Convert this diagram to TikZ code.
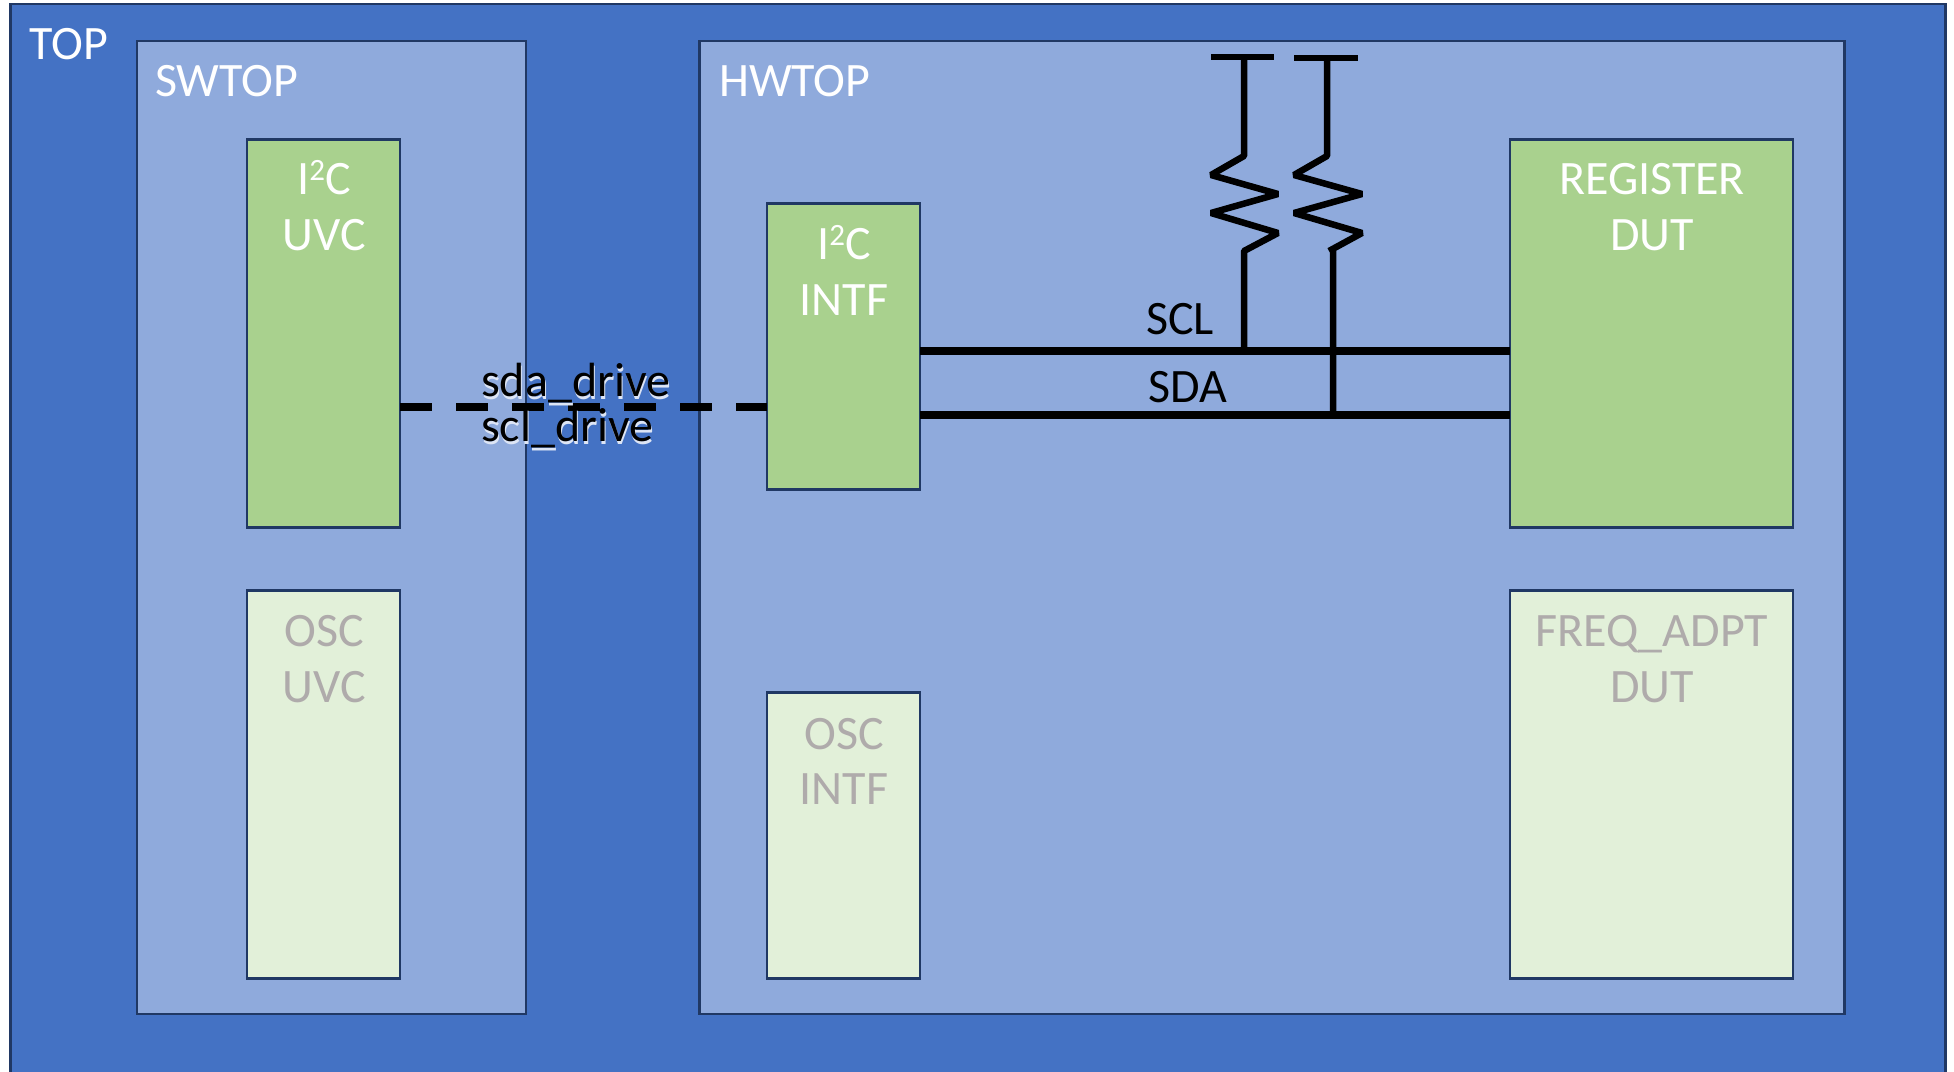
\documentclass[tikz,border=0pt]{standalone}
\usepackage{fontspec}
\setmainfont{Carlito}
\newcommand{\glowlabel}[1]{\rlap{\kern1pt\raisebox{-3pt}{\textcolor{white!70!glowblue}{#1}}}#1}
\definecolor{topblue}{HTML}{4472C4}
\definecolor{glowblue}{HTML}{8FAADC}
\definecolor{midblue}{HTML}{8FAADC}
\definecolor{edgeblue}{HTML}{203864}
\definecolor{boxgreen}{HTML}{A9D18E}
\definecolor{palegreen}{HTML}{E2F0D9}
\definecolor{fadetext}{HTML}{AFABAB}
\tikzset{
  x=1pt,y=-1pt,
  box/.style={draw=edgeblue,line width=2.6pt,inner sep=0pt,outer sep=0pt,anchor=north west},
  topbox/.style={box,fill=topblue},
  hier/.style={box,fill=midblue},
  active/.style={box,fill=boxgreen},
  faded/.style={box,fill=palegreen},
  lab/.style={anchor=base west,inner sep=0pt,font=\fontsize{48}{56}\selectfont},
  white lab/.style={lab,text=white},
  mid lab/.style={anchor=base,inner sep=0pt,font=\fontsize{48}{56}\selectfont,text=#1},
  wire lab/.style={lab,text=black},
  sigwire/.style={draw=black,line width=8pt},
  res/.style={draw=black,line width=6.5pt,line join=bevel},
}
\begin{document}
\begin{tikzpicture}
\clip (0,0) rectangle (1954,1071);
\fill[white] (0,0) rectangle (1954,1071);
\node[topbox,minimum width=1935pt,minimum height=1090pt] (top) at (10.5,4) {};
\node[hier,minimum width=389pt,minimum height=973pt] (swtop) at (137,41) {};
\node[hier,minimum width=1145pt,minimum height=973pt] (hwtop) at (699.5,41) {};
\node[active,minimum width=153pt,minimum height=388pt] (i2cuvc) at (247,139.5) {};
\node[faded,minimum width=153pt,minimum height=388pt] (oscuvc) at (247,590.5) {};
\node[active,minimum width=153pt,minimum height=286pt] (i2cintf) at (767,203.5) {};
\node[faded,minimum width=153pt,minimum height=286pt] (oscintf) at (767,692.5) {};
\node[active,minimum width=283pt,minimum height=388pt] (regdut) at (1510,139.5) {};
\node[faded,minimum width=283pt,minimum height=388pt] (freqdut) at (1510,590.5) {};

\node[white lab] (toplab) at (29,59) {TOP};
\node[white lab] (swlab) at (155,96) {SWTOP};
\node[white lab] (hwlab) at (719,96) {HWTOP};
\node[mid lab=white] (i2cuvclab) at (324,194) {I\raisebox{14pt}{\fontsize{31}{31}\selectfont 2}C};
\node[mid lab=white] (uvclab) at (324.5,250) {UVC};
\node[mid lab=fadetext] (oscuvclab) at (324,646.5) {OSC};
\node[mid lab=fadetext] (uvc2lab) at (324.5,702) {UVC};
\node[mid lab=white] (i2cintflab) at (844,259) {I\raisebox{14pt}{\fontsize{31}{31}\selectfont 2}C};
\node[mid lab=white] (intflab) at (844,315.5) {INTF};
\node[mid lab=fadetext] (oscintflab) at (844,749) {OSC};
\node[mid lab=fadetext] (intf2lab) at (844,804.5) {INTF};
\node[mid lab=white] (reglab) at (1652,194) {REGISTER};
\node[mid lab=white] (dutlab) at (1652,250) {DUT};
\node[mid lab=fadetext] (freqlab) at (1652,646.5) {FREQ\_ADPT};
\node[mid lab=fadetext] (dut2lab) at (1652,702) {DUT};

\coordinate (dashy) at (0,407);
\coordinate (sclrow) at (0,351);
\coordinate (sdarow) at (0,415);
\draw[sigwire,dash pattern=on 32pt off 24pt] (i2cuvc.east |- dashy) -- (i2cintf.west |- dashy);
\draw[sigwire] (i2cintf.east |- sclrow) -- (regdut.west |- sclrow);
\draw[sigwire] (i2cintf.east |- sdarow) -- (regdut.west |- sdarow);

\coordinate (railone) at (1244,57);
\coordinate (railtwo) at (1327,58);
\coordinate (tapone) at (1244,351);
\coordinate (taptwo) at (1333,415);
\draw[res] (1211,57) -- (1274,57);
\draw[res] (1294,58) -- (1358,58);
\draw[res] (railone) -- (1244,156) -- (1211,175) -- (1278,194) -- (1211,213) -- (1278,233) -- (1244,251) -- (tapone);
\draw[res] (railtwo) -- (1327,156) -- (1294,175) -- (1362,194) -- (1294,213) -- (1362,233) -- (1329,251) (1333,251) -- (taptwo);

\node[wire lab] (scl) at (1146,334) {SCL};
\node[wire lab] (sda) at (1148,402) {SDA};
\node[wire lab] (sdadrive) at (481,396) {\glowlabel{sda\_drive}};
\node[wire lab] (scldrive) at (481,441) {\glowlabel{scl\_drive}};
\end{tikzpicture}
\end{document}
